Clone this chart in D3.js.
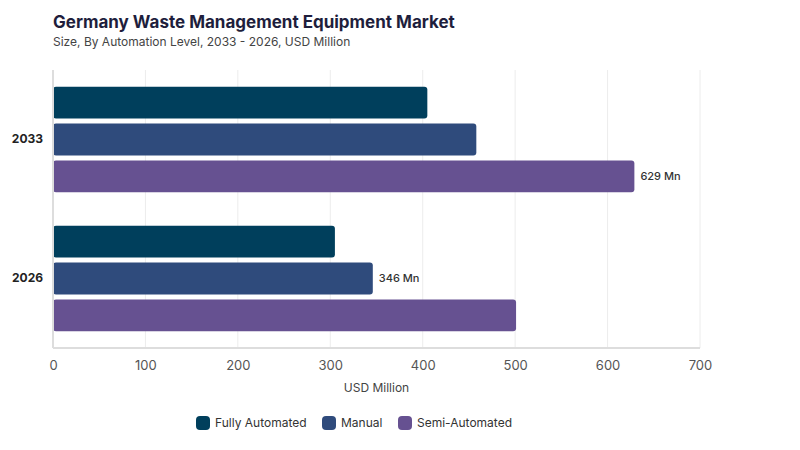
<!DOCTYPE html>
<html>
<head>
<meta charset="utf-8">
<script src="https://cdn.jsdelivr.net/npm/d3@7"></script>
<style>
  body { margin: 0; background: #fff; }
  svg text { font-family: Inter, "Noto Sans", sans-serif; }
</style>
</head>
<body>
<div id="chart"></div>
<script>
var years = ['2033', '2026'];
var series = ['Fully Automated', 'Manual', 'Semi-Automated'];
var fullyAutomated = [405, 305];
var manual = [458, 346];
var semiAutomated = [629, 501];
var xTicks = [0, 100, 200, 300, 400, 500, 600, 700];
// which bar gets a value label: [year, series]
var labelled = [['2033', 'Semi-Automated'], ['2026', 'Manual']];

var colors = ['#003f5c', '#2f4b7c', '#665191'];
var values = [fullyAutomated, manual, semiAutomated];

var width = 800, height = 450;
var margin = { top: 70, right: 100, bottom: 102, left: 53 };

var svg = d3.select('#chart').append('svg')
  .attr('width', width)
  .attr('height', height);

svg.append('text')
  .attr('x', 53).attr('y', 28)
  .attr('font-size', 17).attr('font-weight', 700)
  .attr('fill', '#1e1e3c')
  .text('Germany Waste Management Equipment Market');

svg.append('text')
  .attr('x', 53).attr('y', 46)
  .attr('font-size', 12).attr('fill', '#444')
  .text('Size, By Automation Level, 2033 - 2026, USD Million');

var x = d3.scaleLinear().domain([0, 700]).range([margin.left, width - margin.right]);
var y0 = d3.scaleBand().domain(years)
  .range([margin.top, height - margin.bottom])
  .paddingInner(0.24).paddingOuter(0.12);
var y1 = d3.scaleBand().domain(series)
  .range([0, y0.bandwidth()])
  .paddingInner(0.14);

// gridlines
svg.append('g').selectAll('line').data(xTicks.slice(1)).enter().append('line')
  .attr('x1', function(d) { return x(d); })
  .attr('x2', function(d) { return x(d); })
  .attr('y1', margin.top).attr('y2', height - margin.bottom)
  .attr('stroke', '#ececec').attr('stroke-width', 1);

var rows = [];
years.forEach(function(yr, i) {
  series.forEach(function(s, j) {
    rows.push({ year: yr, series: s, value: values[j][i], color: colors[j] });
  });
});

svg.append('g').selectAll('rect').data(rows).enter().append('rect')
  .attr('x', x(0))
  .attr('y', function(d) { return y0(d.year) + y1(d.series); })
  .attr('width', function(d) { return x(d.value) - x(0); })
  .attr('height', y1.bandwidth())
  .attr('rx', 3)
  .attr('fill', function(d) { return d.color; });

svg.append('g').selectAll('text')
  .data(rows.filter(function(d) {
    return labelled.some(function(l) { return l[0] === d.year && l[1] === d.series; });
  }))
  .enter().append('text')
  .attr('x', function(d) { return x(d.value) + 6; })
  .attr('y', function(d) { return y0(d.year) + y1(d.series) + y1.bandwidth() / 2; })
  .attr('dy', '0.35em')
  .attr('font-size', 11).attr('font-weight', 500).attr('fill', '#333')
  .text(function(d) { return d.value + ' Mn'; });

// axis lines
svg.append('line')
  .attr('x1', x(0)).attr('x2', x(0))
  .attr('y1', margin.top).attr('y2', height - margin.bottom)
  .attr('stroke', '#dddddd').attr('stroke-width', 2);
svg.append('line')
  .attr('x1', x(0)).attr('x2', x(700))
  .attr('y1', height - margin.bottom).attr('y2', height - margin.bottom)
  .attr('stroke', '#dddddd').attr('stroke-width', 2);

var xAxis = svg.append('g')
  .attr('transform', 'translate(0,' + (height - margin.bottom) + ')')
  .call(d3.axisBottom(x).tickValues(xTicks).tickSize(0).tickPadding(13));
xAxis.select('.domain').remove();
xAxis.selectAll('text').attr('font-size', 13).attr('fill', '#555')
  .style('font-family', 'Inter, "Noto Sans", sans-serif');

var yAxis = svg.append('g')
  .attr('transform', 'translate(' + (x(0) - 10) + ',0)')
  .call(d3.axisLeft(y0).tickSize(0).tickPadding(0));
yAxis.select('.domain').remove();
yAxis.selectAll('text').attr('font-size', 12).attr('font-weight', 700).attr('fill', '#222')
  .style('font-family', 'Inter, "Noto Sans", sans-serif');

svg.append('text')
  .attr('x', (x(0) + x(700)) / 2).attr('y', 392)
  .attr('text-anchor', 'middle')
  .attr('font-size', 12).attr('fill', '#444')
  .text('USD Million');

// legend
var legendX = [196, 322, 398];
var legend = svg.append('g').selectAll('g').data(series).enter().append('g')
  .attr('transform', function(d, i) { return 'translate(' + legendX[i] + ',416)'; });
legend.append('rect')
  .attr('width', 14).attr('height', 14).attr('rx', 4)
  .attr('fill', function(d, i) { return colors[i]; });
legend.append('text')
  .attr('x', 19).attr('y', 7).attr('dy', '0.35em')
  .attr('font-size', 12).attr('fill', '#333')
  .text(function(d) { return d; });
</script>
</body>
</html>
